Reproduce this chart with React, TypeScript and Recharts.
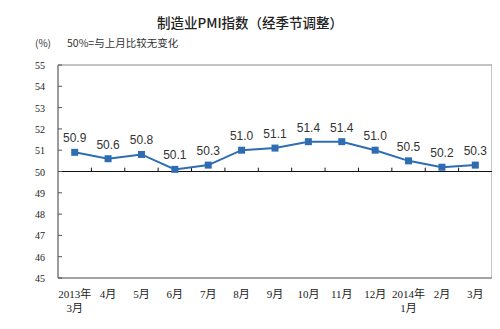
import React from 'react';
import { LineChart, Line, XAxis, YAxis, ReferenceLine, ReferenceArea, LabelList } from 'recharts';

const title = '制造业PMI指数（经季节调整）';
const unitLabel = '(%)';
const note = '50%=与上月比较无变化';
const months = ['2013年\n3月', '4月', '5月', '6月', '7月', '8月', '9月', '10月', '11月', '12月', '2014年\n1月', '2月', '3月'];
const pmi = [50.9, 50.6, 50.8, 50.1, 50.3, 51.0, 51.1, 51.4, 51.4, 51.0, 50.5, 50.2, 50.3];
const yTicks = [45, 46, 47, 48, 49, 50, 51, 52, 53, 54, 55];
const baseline = 50;

const data = pmi.map((v, i) => ({ idx: i, pmi: v }));
const xTicks = months.map((_, i) => i);
const boundaries = months.slice(1).map((_, i) => i + 0.5);

const AXIS_FONT = '"Liberation Serif", "Noto Sans CJK SC", serif';
const LINE_COLOR = '#2f6db3';

const YTick = (props: any) => {
  const { x, y, payload } = props;
  return (
    <g>
      <line x1={x} x2={x + 4} y1={y} y2={y} stroke="#555" strokeWidth={1} />
      <text x={x - 13} y={y} dy={4} textAnchor="end" fontSize={10} fill="#222" fontFamily={AXIS_FONT}>
        {payload.value}
      </text>
    </g>
  );
};

const XTick = (props: any) => {
  const { x, y, payload } = props;
  const lines = months[payload.value].split('\n');
  return (
    <g>
      {lines.map((l, i) => (
        <text key={i} x={x} y={y + 20 + i * 14} textAnchor="middle" fontSize={11} fill="#222" fontFamily={AXIS_FONT}>
          {l}
        </text>
      ))}
    </g>
  );
};

export default function App() {
  return (
    <div style={{ position: 'relative', width: 500, height: 329, margin: -8, background: '#fff' }}>
      <div style={{ position: 'absolute', left: 0, width: 500, top: 12, textAlign: 'center', fontSize: 13.5, fontWeight: 500, color: '#222', fontFamily: '"Noto Sans CJK SC", sans-serif', lineHeight: '20px' }}>
        {title}
      </div>
      <div style={{ position: 'absolute', left: 35, top: 36, fontSize: 10, color: '#333', fontFamily: '"Noto Sans CJK SC", sans-serif', lineHeight: '14px' }}>
        {unitLabel}
      </div>
      <div style={{ position: 'absolute', left: 67, top: 36, fontSize: 10.5, color: '#333', fontFamily: '"Noto Sans CJK SC", sans-serif', lineHeight: '14px' }}>
        {note}
      </div>
      <div style={{ position: 'absolute', left: 0, top: 0 }}>
        <LineChart width={500} height={329} data={data} margin={{ top: 65, right: 8, bottom: 21, left: 0 }}>
          <XAxis
            dataKey="idx"
            type="number"
            domain={[-0.5, 12.5]}
            ticks={xTicks}
            interval={0}
            tickLine={false}
            tickSize={0}
            tickMargin={0}
            axisLine={{ stroke: '#999', strokeWidth: 1.5 }}
            tick={<XTick />}
            height={30}
          />
          <YAxis
            type="number"
            domain={[45, 55]}
            ticks={yTicks}
            interval={0}
            tickLine={false}
            tickSize={0}
            tickMargin={0}
            axisLine={{ stroke: '#777', strokeWidth: 1 }}
            tick={<YTick />}
            width={58}
          />
          <ReferenceArea x1={-0.5} x2={12.5} y1={45} y2={55} stroke="#888" strokeWidth={1} fill="none" fillOpacity={0} />
          <ReferenceLine y={baseline} stroke="#111" strokeWidth={1} />
          {boundaries.map((b) => (
            <ReferenceLine key={b} segment={[{ x: b, y: baseline }, { x: b, y: baseline + 0.18 }]} stroke="#111" strokeWidth={1} />
          ))}
          <Line
            type="linear"
            dataKey="pmi"
            stroke={LINE_COLOR}
            strokeWidth={2}
            isAnimationActive={false}
            dot={(p: any) => (
              <rect key={p.index} x={p.cx - 3.5} y={p.cy - 3.5} width={7} height={7} fill={LINE_COLOR} />
            )}
          >
            <LabelList
              dataKey="pmi"
              position="top"
              offset={10}
              formatter={(v: any) => Number(v).toFixed(1)}
              style={{ fontSize: 12, fill: '#333', fontFamily: '"Liberation Sans", Arial, sans-serif' }}
            />
          </Line>
        </LineChart>
      </div>
    </div>
  );
}
